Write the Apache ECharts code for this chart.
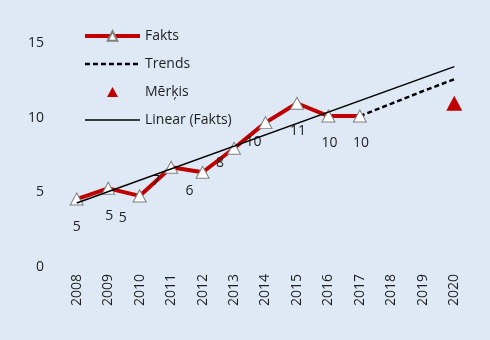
<!DOCTYPE html>
<html><head><meta charset="utf-8">
<script src="https://cdn.jsdelivr.net/npm/echarts@6/dist/echarts.min.js"></script>
<style>html,body{margin:0;padding:0;background:#dee9f5;}#c{width:490px;height:340px;}</style>
</head><body><div id="c"></div>
<script>
const years = ['2008','2009','2010','2011','2012','2013','2014','2015','2016','2017','2018','2019','2020'];
const fakts = [4.56, 5.28, 4.77, 6.69, 6.36, 7.97, 9.69, 10.99, 10.13, 10.13, null, null, null];
const faktsLabels = ['5','5','5','7','6','8','10','11','10','10'];
const trends = [null, null, null, null, null, null, null, null, null, 10.13, 10.96, 11.8, 12.6];
const merkis = [null, null, null, null, null, null, null, null, null, null, null, null, 10.99];
const linear = [4.3, null, null, null, null, null, null, null, null, null, null, null, 13.45];
const yTicks = [0, 5, 10, 15];

// label offsets (style, not data)
const labelOffsets = [[0,28],[1,28],[-17,22],[-15,14],[-13,19],[-14,15],[-12,19],[1,28],[1,27],[1,27]];

const font = '"Open Sans", "Noto Sans", sans-serif';
const textColor = '#1e1e1e';

const faktsData = fakts.map((v, i) => {
  if (v === null) return null;
  return {
    value: v,
    label: { show: true, formatter: faktsLabels[i], position: 'inside', offset: labelOffsets[i],
             fontSize: 14, color: textColor, fontFamily: font }
  };
});

const hidden = { opacity: 0, color: 'rgba(0,0,0,0)', borderWidth: 0 };
// triangle legend icon inside a 55x12 box (corner moveTo points fix the box)
const merkisIcon = 'path://M0,0M55,12M22,11L27.5,1L33,11Z';

const chart = echarts.init(document.getElementById('c'), null, { renderer: 'canvas' });
chart.setOption({
  backgroundColor: '#dee9f5',
  animation: false,
  textStyle: { fontFamily: font },
  grid: { left: 61, right: 20, top: 43.5, bottom: 73 },
  legend: {
    orient: 'vertical', left: 78, top: 24, itemWidth: 55, itemHeight: 12, itemGap: 14,
    textStyle: { fontSize: 14, color: textColor, fontFamily: font },
    data: [
      { name: 'Fakts', lineStyle: { width: 4, color: '#c00000' } },
      { name: 'Trends', itemStyle: hidden, lineStyle: { width: 2.5, color: '#000000', type: [5, 3] } },
      { name: 'Mērķis', icon: merkisIcon, itemStyle: { color: '#c00000', opacity: 1 } },
      { name: 'Linear (Fakts)', itemStyle: hidden, lineStyle: { width: 1.5, color: '#000000' } }
    ]
  },
  xAxis: {
    type: 'category', data: years, boundaryGap: true,
    axisLine: { show: false }, axisTick: { show: false },
    axisLabel: { rotate: 90, margin: 7, fontSize: 14, color: textColor, fontFamily: font, interval: 0 }
  },
  yAxis: {
    type: 'value', min: yTicks[0], max: yTicks[yTicks.length - 1], interval: 5,
    splitLine: { show: false }, axisLine: { show: false }, axisTick: { show: false },
    axisLabel: { margin: 17, fontSize: 14, color: textColor, fontFamily: font }
  },
  series: [
    {
      name: 'Fakts', type: 'line', data: faktsData, z: 3,
      symbol: 'triangle', symbolSize: [13, 12], showAllSymbol: true,
      lineStyle: { color: '#c00000', width: 4 },
      itemStyle: { color: '#ffffff', borderColor: '#7f7f7f', borderWidth: 1 }
    },
    {
      name: 'Trends', type: 'line', data: trends, symbol: 'none', z: 2,
      lineStyle: { color: '#000000', width: 2.5, type: [5, 3] },
      itemStyle: { color: '#000000' }
    },
    {
      name: 'Mērķis', type: 'scatter', data: merkis, symbol: 'triangle', symbolSize: [16, 15],
      itemStyle: { color: '#c00000', opacity: 1 }
    },
    {
      name: 'Linear (Fakts)', type: 'line', data: linear, connectNulls: true, symbol: 'none', z: 4,
      lineStyle: { color: '#000000', width: 1.5 }, itemStyle: { color: '#000000' }
    }
  ]
});
</script></body></html>
